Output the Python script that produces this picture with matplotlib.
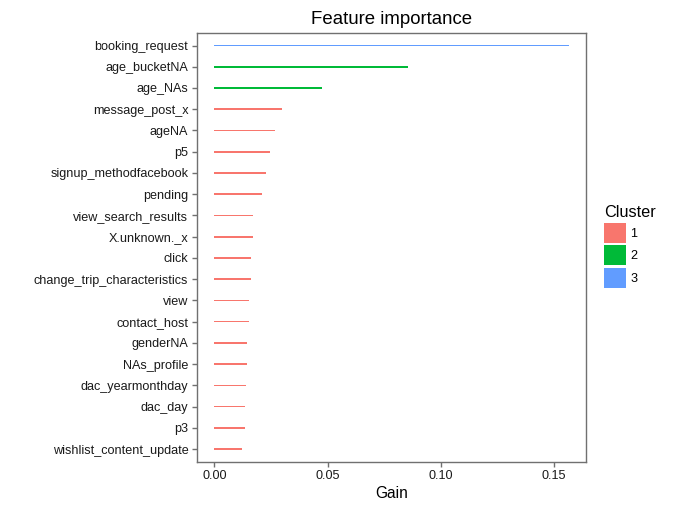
import matplotlib
matplotlib.use("Agg")
import matplotlib.pyplot as plt
from matplotlib.patches import Patch

plt.rcParams["font.family"] = ["Liberation Sans", "DejaVu Sans"]

# data (top to bottom)
features = [
    "booking_request", "age_bucketNA", "age_NAs", "message_post_x", "ageNA",
    "p5", "signup_methodfacebook", "pending", "view_search_results",
    "X.unknown._x", "click", "change_trip_characteristics", "view",
    "contact_host", "genderNA", "NAs_profile", "dac_yearmonthday",
    "dac_day", "p3", "wishlist_content_update",
]
gain = [
    0.1565, 0.0853, 0.0474, 0.0301, 0.0267,
    0.0245, 0.0230, 0.0212, 0.0172,
    0.0172, 0.0161, 0.0161, 0.0152,
    0.0152, 0.0143, 0.0143, 0.0138,
    0.0134, 0.0134, 0.0121,
]
cluster = [3, 2, 2, 1, 1, 1, 1, 1, 1, 1, 1, 1, 1, 1, 1, 1, 1, 1, 1, 1]
cluster_names = ["1", "2", "3"]
cluster_colors = {1: "#F8766D", 2: "#00BA38", 3: "#619CFF"}

fig = plt.figure(figsize=(6.78, 5.12), dpi=100)
ax = fig.add_axes([0.290, 0.098, 0.575, 0.838])

n = len(features)
ypos = [n - 1 - i for i in range(n)]
ax.barh(ypos, gain, height=0.08, color=[cluster_colors[c] for c in cluster],
        linewidth=0, antialiased=False)

ax.set_yticks(ypos)
ax.set_yticklabels(features, fontsize=9.1, color="#1a1a1a")
ax.set_xticks([0.0, 0.05, 0.10, 0.15])
ax.set_xticklabels(["0.00", "0.05", "0.10", "0.15"], fontsize=9.1, color="#1a1a1a")
ax.set_xlim(-0.0078, 0.1643)
ax.set_ylim(-0.6, n - 0.4)

for s in ax.spines.values():
    s.set_color("#707070")
    s.set_linewidth(1.0)
ax.tick_params(length=3.5, width=1.0, color="#707070", pad=2.5)

ax.set_xlabel("Gain", fontsize=11.2, labelpad=3)
ax.set_title("Feature importance", fontsize=13.4, pad=6)

handles = [Patch(facecolor=cluster_colors[k + 1], edgecolor="none") for k in range(3)]
leg = ax.legend(handles, cluster_names, title="Cluster", loc="upper left",
                bbox_to_anchor=(0.891, 0.599), bbox_transform=fig.transFigure,
                frameon=False, fontsize=9.1, title_fontsize=11.7,
                handlelength=1.7, handleheight=2.05, labelspacing=0.2,
                handletextpad=0.35, borderpad=0, borderaxespad=0,
                alignment="left")

fig.savefig("out.png", dpi=100)
